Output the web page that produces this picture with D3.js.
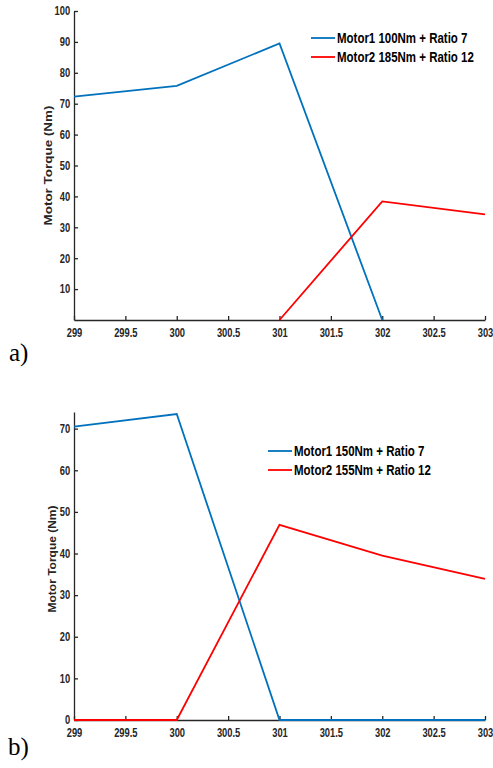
<!DOCTYPE html>
<head>
  <meta charset="utf-8">
  <title>motor torque</title>
  <style>
    body { margin: 0; background: #fff; }
    .tick text { font-family: "Liberation Sans", Arial, sans-serif; font-weight: bold; font-size: 12px; fill: #262626; }
    .domain, .tick line { stroke: #262626; stroke-width: 1.3; }
  </style>
</head>
<script src="https://d3js.org/d3.v7.min.js"></script>
<div id="chart"></div>
<script>
  // data
  const time = [299, 300, 301, 302, 303];
  const motor1A = [72.3, 75.8, 89.5, 0, null];
  const motor2A = [null, null, 0, 38.4, 34.2];
  const motor1B = [70.5, 73.5, 0, 0, 0];
  const motor2B = [0, 0, 46.9, 39.5, 33.9];

  const xTicks = [299, 299.5, 300, 300.5, 301, 301.5, 302, 302.5, 303];
  const yTicksA = [10, 20, 30, 40, 50, 60, 70, 80, 90, 100];
  const yTicksB = [0, 10, 20, 30, 40, 50, 60, 70];

  const legendA = ["Motor1 100Nm + Ratio 7", "Motor2 185Nm + Ratio 12"];
  const legendB = ["Motor1 150Nm + Ratio 7", "Motor2 155Nm + Ratio 12"];
  const colors = ["#0072BD", "#FF0000"];

  const W = 493, H = 768;
  const svg = d3.select("#chart").append("svg")
    .attr("width", W).attr("height", H);

  function panel(o) {
    const x = d3.scaleLinear().domain([299, 303]).range([74, 485]);
    const y = d3.scaleLinear().domain([0, o.yMax]).range([o.bottom, o.top]);
    const g = svg.append("g");

    const xa = g.append("g")
      .attr("transform", `translate(0,${o.bottom})`)
      .call(d3.axisBottom(x).tickValues(xTicks).tickFormat(d => String(d))
        .tickSizeInner(-4).tickSizeOuter(0).tickPadding(8));
    xa.selectAll(".tick text").attr("transform", "scale(0.78,1)");

    const ya = g.append("g")
      .attr("transform", `translate(74,0)`)
      .call(d3.axisLeft(y).tickValues(o.yTicks).tickFormat(d => String(d))
        .tickSizeInner(-4).tickSizeOuter(0).tickPadding(5));
    ya.selectAll(".tick text").attr("transform", "scale(0.78,1)");

    // y label
    g.append("text")
      .attr("transform", `translate(${o.labX},${(o.top + o.bottom) / 2 + o.labShift}) rotate(-90)`)
      .attr("text-anchor", "middle")
      .attr("dy", "0.35em")
      .attr("textLength", o.labLen)
      .attr("lengthAdjust", "spacingAndGlyphs")
      .style("font-family", "Liberation Sans, Arial, sans-serif")
      .style("font-weight", "bold")
      .style("font-size", o.labSize + "px")
      .attr("fill", "#262626")
      .text("Motor Torque (Nm)");

    const line = d3.line()
      .defined(d => d[1] != null)
      .x(d => x(d[0]))
      .y(d => y(d[1]));

    o.series.forEach((s, i) => {
      g.append("path")
        .datum(time.map((t, j) => [t, s[j]]))
        .attr("fill", "none")
        .attr("stroke", colors[i])
        .attr("stroke-width", 1.8)
        .attr("d", line);
    });

    // legend
    o.legend.forEach((name, i) => {
      const ly = o.legY + i * 19;
      g.append("line")
        .attr("x1", o.legX).attr("x2", o.legX + 24)
        .attr("y1", ly).attr("y2", ly)
        .attr("stroke", colors[i]).attr("stroke-width", 1.8);
      g.append("text")
        .attr("transform", `translate(${o.legX + 26},${ly}) scale(0.82,1)`)
        .attr("dy", "0.35em")
        .style("font-family", "Liberation Sans, Arial, sans-serif")
        .style("font-weight", "bold")
        .style("font-size", "14px")
        .attr("fill", "#000")
        .text(name);
    });

    svg.append("text")
      .attr("x", o.tagX).attr("y", o.tagY)
      .style("font-family", "Liberation Serif, Times New Roman, serif")
      .style("font-size", "25px")
      .text(o.tag);
  }

  panel({ top: 11, bottom: 320, yMax: 100, yTicks: yTicksA,
    series: [motor1A, motor2A], legend: legendA, legX: 311, legY: 38,
    labX: 48, labSize: 11.5, labLen: 120, labShift: 0, tag: "a)", tagX: 9, tagY: 361 });

  panel({ top: 412, bottom: 720, yMax: 74, yTicks: yTicksB,
    series: [motor1B, motor2B], legend: legendB, legX: 268, legY: 451,
    labX: 52, labSize: 10.5, labLen: 107, labShift: -7, tag: "b)", tagX: 8, tagY: 755 });
</script>
